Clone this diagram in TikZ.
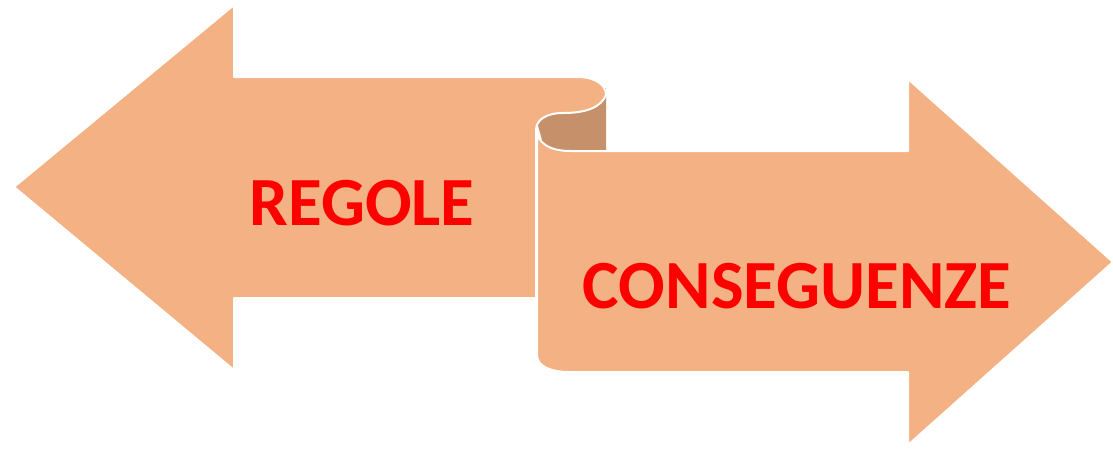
\documentclass[tikz,border=0pt]{standalone}
\usepackage{fontspec}
\setmainfont{Carlito}
\usepackage{tikz}

\definecolor{arrowpeach}{HTML}{F4B183}
\definecolor{foldbrown}{HTML}{C5906A}
\definecolor{labelred}{HTML}{FF0000}

\begin{document}
\begin{tikzpicture}[
				x=1pt,
				y=-1pt,
				line join=round,
				arrowbody/.style={fill=arrowpeach, draw=white, line width=2pt},
				foldshade/.style={fill=foldbrown},
				labeltext/.style={text=labelred, anchor=base, inner sep=0pt,
					font=\fontsize{69}{80}\selectfont\bfseries}
				]
				\useasboundingbox (0,0) rectangle (1113,448);
				
				% Fold behind the curl
				\fill[foldshade] (606,88) -- (606,151) -- (545,151) -- (536,118) -- cycle;
				
				% Left arrow
				\draw[arrowbody] (14,187) -- (234,5) -- (234,77) -- (577,77)
					.. controls (596,77) and (606,85) .. (606,95)
					.. controls (601,107) and (587,113) .. (563,113)
					.. controls (546,113) and (536,120) .. (536,130)
					-- (536,298) -- (234,298) -- (234,370) -- cycle;
				
				% Right arrow
				\draw[arrowbody] (537,130)
					.. controls (537,143) and (550,151) .. (570,151)
					-- (908,151) -- (908,79) -- (1113,262) -- (908,445) -- (908,372)
					-- (570,372) .. controls (550,372) and (537,366) .. (537,355)
					-- cycle;
				
				% Labels
				\node[labeltext] (regole) at (362,225) {REGOLE};
				\node[labeltext] (conseguenze) at (797,308) {CONSEGUENZE};
			\end{tikzpicture}
\end{document}
